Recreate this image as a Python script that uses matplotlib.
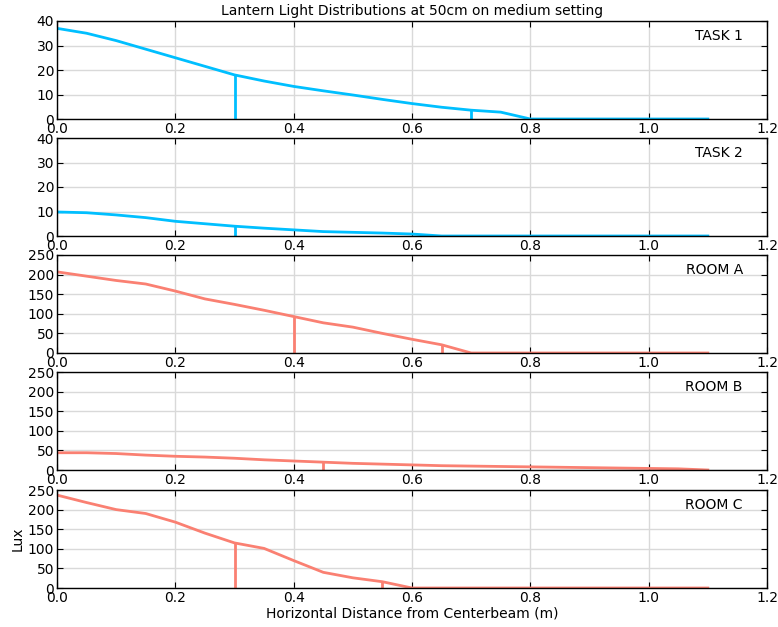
import matplotlib
matplotlib.use("Agg")
import matplotlib.pyplot as plt

# --- Data ---
distance = [0.0, 0.05, 0.1, 0.15, 0.2, 0.25, 0.3, 0.35, 0.4, 0.45, 0.5, 0.55,
            0.6, 0.65, 0.7, 0.75, 0.8, 0.85, 0.9, 0.95, 1.0, 1.05, 1.1]

task1 = [37, 35, 32, 28.5, 25, 21.5, 18, 15.5, 13.3, 11.5, 9.8, 8,
         6.3, 4.8, 3.6, 2.8, 0, 0, 0, 0, 0, 0, 0]
task2 = [9.8, 9.5, 8.6, 7.5, 6, 5, 4, 3.2, 2.5, 1.8, 1.5, 1.2,
         0.8, 0, 0, 0, 0, 0, 0, 0, 0, 0, 0]
room_a = [207, 196, 185, 176, 158, 138, 124, 109, 93, 77, 66, 50,
          35, 21, 0, 0, 0, 0, 0, 0, 0, 0, 0]
room_b = [44, 44, 42, 38, 35, 33, 30, 26, 23, 20, 17, 15,
          13, 11, 10, 9, 8, 7, 6, 5, 4, 3, 0]
room_c = [237, 218, 200, 190, 168, 140, 115, 101, 70, 40, 26, 16,
          0, 0, 0, 0, 0, 0, 0, 0, 0, 0, 0]

names = ["TASK 1", "TASK 2", "ROOM A", "ROOM B", "ROOM C"]
series = [task1, task2, room_a, room_b, room_c]
ylims = [40, 40, 250, 250, 250]
ysteps = [10, 10, 50, 50, 50]
# distances where a vertical marker is dropped to the axis
markers = [[0.3, 0.7], [0.3], [0.4, 0.65], [0.45], [0.3, 0.55]]

BLUE = "#00BFFF"
RED = "#FA8072"
colors = [BLUE, BLUE, RED, RED, RED]

fig = plt.figure(figsize=(7.78, 6.27), dpi=100)
left, width = 57 / 778, 710 / 778
tops = [21, 138, 255, 372, 490]
h = 98 / 627

axes = []
for i in range(5):
    bottom = 1 - (tops[i] + 98) / 627
    ax = fig.add_axes([left, bottom, width, h])
    axes.append(ax)
    y = series[i]
    ax.plot(distance, y, color=colors[i], lw=2)
    for m in markers[i]:
        yv = y[distance.index(m)]
        ax.vlines(m, 0, yv, color=colors[i], lw=2)
    ax.set_xlim(0, 1.2)
    ax.set_ylim(0, ylims[i])
    ax.set_yticks(range(0, ylims[i] + 1, ysteps[i]))
    ax.set_xticks([0.0, 0.2, 0.4, 0.6, 0.8, 1.0, 1.2])
    ax.grid(True, color="#d9d9d9", lw=1)
    ax.set_axisbelow(True)
    ax.tick_params(direction="in", top=True, right=True, length=4,
                   labelsize=10, pad=2)
    for s in ax.spines.values():
        s.set_linewidth(1)
    ax.text(0.966, 0.85, names[i], transform=ax.transAxes, ha="right",
            va="center", fontsize=10)

axes[0].set_title("Lantern Light Distributions at 50cm on medium setting",
                  fontsize=10, pad=4)
axes[-1].set_ylabel("Lux", fontsize=10, labelpad=2)
axes[-1].set_xlabel("Horizontal Distance from Centerbeam (m)", fontsize=10,
                    labelpad=1)

fig.savefig("out.png", dpi=100)
